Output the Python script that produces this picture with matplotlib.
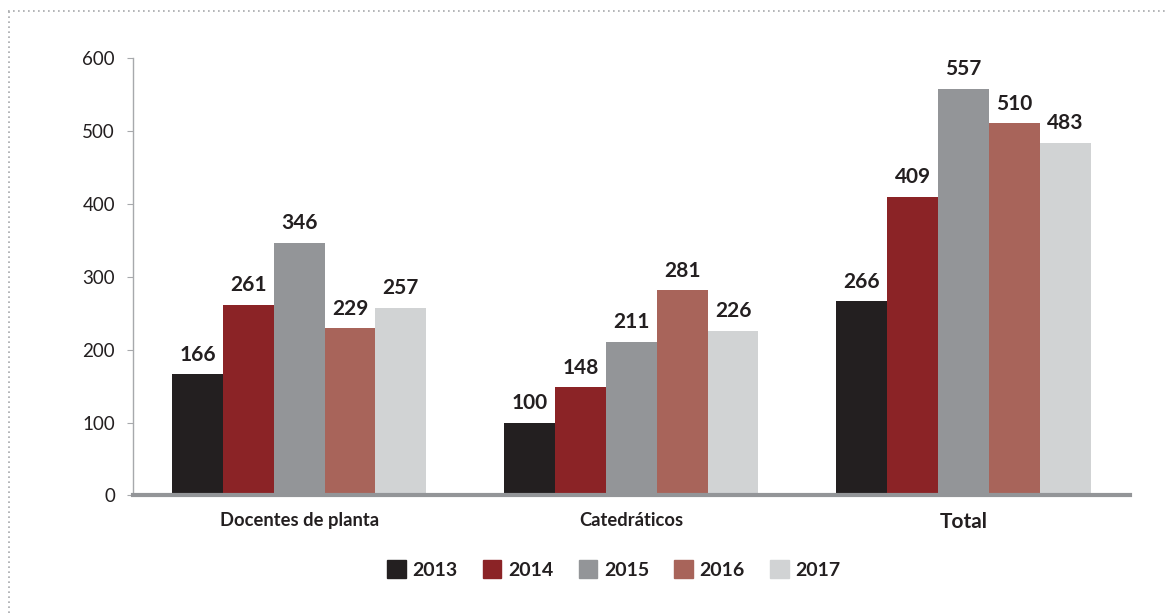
import matplotlib.pyplot as plt
import matplotlib.patches as mpatches
from matplotlib.lines import Line2D
import numpy as np

plt.rcParams['font.family'] = ['Lato', 'DejaVu Sans']

categories = ["Docentes de planta", "Catedráticos", "Total"]
years = ["2013", "2014", "2015", "2016", "2017"]
values = {
    "2013": [166, 100, 266],
    "2014": [261, 148, 409],
    "2015": [346, 211, 557],
    "2016": [229, 281, 510],
    "2017": [257, 226, 483],
}
colors = ["#231F20", "#8B2326", "#939598", "#A8645A", "#D1D3D4"]

fig = plt.figure(figsize=(11.67, 6.13), dpi=100)
ax = fig.add_axes([0.114, 0.1917, 0.854, 0.7142])

x = np.arange(len(categories))
w = 0.153
for i, (yr, c) in enumerate(zip(years, colors)):
    pos = x + (i - 2) * w
    ax.bar(pos, values[yr], width=w, color=c, zorder=2)
    for px, v in zip(pos, values[yr]):
        ax.annotate(str(v), (px, v), xytext=(0, 7), textcoords="offset points",
                    ha="center", va="bottom", fontsize=15, fontweight="bold",
                    color="#231F20")

ax.set_xlim(-0.5, 2.5)
ax.set_ylim(0, 600)
ax.set_yticks(range(0, 601, 100))
ax.tick_params(axis="y", direction="out", length=4, color="#A7A9AC",
               labelsize=13.5, labelcolor="#231F20", pad=9)
ax.set_xticks(x)
ax.set_xticklabels(categories)
for lbl in ax.get_xticklabels():
    lbl.set_fontweight("bold")
    lbl.set_fontsize(13.2)
    lbl.set_color("#231F20")
ax.get_xticklabels()[2].set_fontsize(15)
ax.tick_params(axis="x", length=0, pad=12)

for s in ["top", "right"]:
    ax.spines[s].set_visible(False)
ax.spines["left"].set_color("#A7A9AC")
ax.spines["left"].set_linewidth(1)
ax.spines["bottom"].set_color("#939598")
ax.spines["bottom"].set_linewidth(3)
ax.spines["bottom"].set_zorder(3)

handles = [mpatches.Patch(color=c, label=yr) for yr, c in zip(years, colors)]
leg = fig.legend(handles=handles, loc="center", bbox_to_anchor=(0.526, 0.071),
                 ncol=5, frameon=False, handlelength=0.95, handleheight=1.0,
                 handletextpad=0.35, columnspacing=1.3,
                 prop={"weight": "bold", "size": 14})
for t in leg.get_texts():
    t.set_color("#231F20")

# dotted frame at top and left
fig.add_artist(Line2D([0.007, 1.0], [0.982, 0.982], transform=fig.transFigure,
                      color="#A7A9AC", linestyle=(0, (1, 2)), linewidth=1.2))
fig.add_artist(Line2D([0.008, 0.008], [0.0, 0.982], transform=fig.transFigure,
                      color="#A7A9AC", linestyle=(0, (1, 2)), linewidth=1.2))

fig.savefig("out.png", dpi=100)
